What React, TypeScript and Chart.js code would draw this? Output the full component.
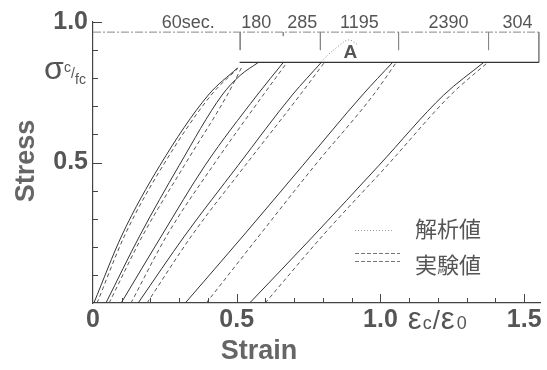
import React, { useEffect, useRef } from "react";
import { Chart, registerables } from "chart.js";
Chart.register(...registerables);

// ---- data (strain = εc/ε0, stress = σ/fc') ----
const curveStress = [0, 0.242, 0.49, 0.74, 0.856];
const g1Stress = [0, 0.242, 0.49, 0.74, 0.836];
const g2Stress = [0, 0.242, 0.49, 0.74, 0.81, 0.856];
const g2ExpStress = [0, 0.242, 0.49, 0.74, 0.836];

const analysisStrain1 = [0.003, 0.101, 0.233, 0.401, 0.502];
const experimentStrain1 = [0.014, 0.111, 0.244, 0.411, 0.505];
const analysisStrain2 = [0.045, 0.164, 0.3, 0.449, 0.512, 0.575];
const experimentStrain2 = [0.056, 0.174, 0.318, 0.467, 0.516];
const analysisStrain3 = [0.098, 0.24, 0.39, 0.571, 0.662];
const experimentStrain3 = [0.132, 0.258, 0.418, 0.592, 0.675];
const analysisStrain4 = [0.157, 0.321, 0.505, 0.693, 0.794];
const experimentStrain4 = [0.188, 0.345, 0.53, 0.72, 0.805];
const analysisStrain5 = [0.321, 0.525, 0.73, 0.937, 1.042];
const experimentStrain5 = [0.394, 0.58, 0.772, 0.975, 1.055];
const analysisStrain6 = [0.545, 0.77, 0.995, 1.22, 1.359];
const experimentStrain6 = [0.599, 0.801, 1.024, 1.244, 1.373];

const plateauStrain = [0.51, 1.551];
const plateauStress = 0.856;

const bracketStress = 0.964;
const bracketStrain = [0, 1.551];
const bracketTickStrain = [0.512, 0.662, 0.791, 1.063, 1.376, 1.551];
const bracketTickBottom = [0.9, 0.95, 0.9, 0.9, 0.9, 0.856];

const timeLabels = ["60sec.", "180", "285", "1195", "2390", "304"];
const timeLabelStrain = [0.331, 0.568, 0.728, 0.927, 1.237, 1.477];

const humpStrain = [0.791, 0.82, 0.855, 0.889, 0.923];
const humpStress = [0.856, 0.885, 0.915, 0.936, 0.918];

const xTickValues = [0, 0.5, 1.0, 1.5];
const xTickLabels = ["0", "0.5", "1.0", "1.5"];
const yTickValues = [0.5, 1.0];
const yTickLabels = ["0.5", "1.0"];
const xMinorTicks = [0.1, 0.2, 0.3, 0.4, 0.5, 0.6, 0.7, 0.8, 0.9, 1.0, 1.1, 1.2, 1.3, 1.4, 1.5];
const xMajorTicks = [0.5, 1.0, 1.5];
const yMinorTicks = [0.1, 0.2, 0.3, 0.4, 0.5, 0.6, 0.7, 0.8, 0.9, 1.0];
const yMajorTicks = [0.5, 1.0];

const legendLabels = ["解析値", "実験値"];

const pts = (xs: number[], ys: number[] | number) =>
  xs.map((x, i) => ({ x, y: Array.isArray(ys) ? ys[i] : ys }));

const TEXT = "#555";
const SANS = "'Liberation Sans', Arial, sans-serif";

const annotPlugin = {
  id: "annot",
  afterDraw(chart: any) {
    const { ctx, scales } = chart;
    const x = scales.x;
    const y = scales.y;
    ctx.save();
    // inward tick marks
    ctx.strokeStyle = "#444";
    ctx.lineWidth = 1;
    yMinorTicks.forEach((v) => {
      const py = Math.round(y.getPixelForValue(v)) + 0.5;
      const len = yMajorTicks.includes(v) ? 9 : 5;
      ctx.beginPath();
      ctx.moveTo(x.left, py);
      ctx.lineTo(x.left + len, py);
      ctx.stroke();
    });
    xMinorTicks.forEach((v) => {
      const px = Math.round(x.getPixelForValue(v)) + 0.5;
      const len = xMajorTicks.includes(v) ? 9 : 5;
      ctx.beginPath();
      ctx.moveTo(px, y.bottom);
      ctx.lineTo(px, y.bottom - len);
      ctx.stroke();
    });

    ctx.fillStyle = TEXT;
    // time labels above bracket
    ctx.font = `18px ${SANS}`;
    ctx.textAlign = "center";
    ctx.textBaseline = "alphabetic";
    const by = y.getPixelForValue(bracketStress) - 4;
    timeLabels.forEach((t, i) => {
      ctx.fillText(t, x.getPixelForValue(timeLabelStrain[i]), by);
    });
    // A
    ctx.font = `bold 19px ${SANS}`;
    ctx.textBaseline = "middle";
    ctx.fillText("A", x.getPixelForValue(0.895), y.getPixelForValue(0.89));

    // sigma label on y axis
    ctx.textAlign = "left";
    ctx.textBaseline = "alphabetic";
    const sy = y.getPixelForValue(0.83);
    ctx.font = `32px ${SANS}`;
    ctx.fillText("σ", 44, sy + 9);
    ctx.font = `14px ${SANS}`;
    ctx.fillText("c", 64, sy + 2);
    ctx.fillText("/", 71, sy + 8);
    ctx.fillText("fc", 75, sy + 14);

    // epsilon label on x axis
    const ex = x.getPixelForValue(1.21) - 33;
    const ey = y.bottom + 26;
    ctx.font = `31px ${SANS}`;
    ctx.fillText("ε", ex, ey);
    ctx.font = `18px ${SANS}`;
    ctx.fillText("c", ex + 15, ey);
    ctx.font = `26px ${SANS}`;
    ctx.fillText("/", ex + 25, ey);
    ctx.font = `31px ${SANS}`;
    ctx.fillText("ε", ex + 33, ey);
    ctx.font = `18px ${SANS}`;
    ctx.fillText("0", ex + 49, ey);

    // axis titles
    ctx.font = `bold 27px ${SANS}`;
    ctx.textAlign = "center";
    ctx.textBaseline = "middle";
    ctx.fillStyle = "#666";
    ctx.fillText("Strain", 259, 352);
    ctx.save();
    ctx.translate(27, 161);
    ctx.rotate(-Math.PI / 2);
    ctx.fillText("Stress", 0, 0);
    ctx.restore();

    // legend
    ctx.strokeStyle = "#999";
    ctx.lineWidth = 1;
    ctx.setLineDash([1, 2]);
    ctx.beginPath();
    ctx.moveTo(355, 230.5);
    ctx.lineTo(392, 230.5);
    ctx.stroke();
    ctx.setLineDash([4, 2]);
    ctx.strokeStyle = "#777";
    ctx.beginPath();
    ctx.moveTo(355, 253.5);
    ctx.lineTo(400, 253.5);
    ctx.moveTo(355, 261.5);
    ctx.lineTo(400, 261.5);
    ctx.stroke();
    ctx.setLineDash([]);
    ctx.fillStyle = TEXT;
    ctx.font = `22px 'Noto Sans CJK JP', sans-serif`;
    ctx.textAlign = "left";
    ctx.fillText(legendLabels[0], 415, 229);
    ctx.fillText(legendLabels[1], 415, 265);
    ctx.restore();
  },
};

export default function App() {
  const ref = useRef<HTMLCanvasElement | null>(null);
  useEffect(() => {
    if (!ref.current) return;
    const solid = (d: any[]) => ({
      data: d,
      borderColor: "#333",
      borderWidth: 1,
      showLine: true,
      pointRadius: 0,
      cubicInterpolationMode: "monotone" as const,
    });
    const dashed = (d: any[]) => ({
      data: d,
      borderColor: "#555",
      borderWidth: 1,
      borderDash: [4, 3],
      showLine: true,
      pointRadius: 0,
      cubicInterpolationMode: "monotone" as const,
    });
    const datasets: any[] = [
      solid(pts(analysisStrain1, g1Stress)),
      dashed(pts(experimentStrain1, g1Stress)),
      solid(pts(analysisStrain2, g2Stress)),
      dashed(pts(experimentStrain2, g2ExpStress)),
      solid(pts(analysisStrain3, curveStress)),
      dashed(pts(experimentStrain3, curveStress)),
      solid(pts(analysisStrain4, curveStress)),
      dashed(pts(experimentStrain4, curveStress)),
      solid(pts(analysisStrain5, curveStress)),
      dashed(pts(experimentStrain5, curveStress)),
      solid(pts(analysisStrain6, curveStress)),
      dashed(pts(experimentStrain6, curveStress)),
      {
        data: pts(plateauStrain, plateauStress),
        borderColor: "#333",
        borderWidth: 1.2,
        showLine: true,
        pointRadius: 0,
      },
      {
        data: pts(bracketStrain, bracketStress),
        borderColor: "#888",
        borderWidth: 1,
        borderDash: [8, 2, 2, 2],
        showLine: true,
        pointRadius: 0,
      },
      ...bracketTickStrain.map((s, i) => ({
        data: [
          { x: s, y: bracketStress },
          { x: s, y: bracketTickBottom[i] },
        ],
        borderColor: "#888",
        borderWidth: 1,
        showLine: true,
        pointRadius: 0,
      })),
      {
        data: pts(humpStrain, humpStress),
        borderColor: "#888",
        borderWidth: 1,
        borderDash: [1, 2],
        showLine: true,
        pointRadius: 0,
        tension: 0.4,
      },
    ];
    const chart = new Chart(ref.current, {
      type: "scatter",
      data: { datasets },
      options: {
        animation: false,
        responsive: true,
        maintainAspectRatio: false,
        layout: { padding: { left: 0, right: 7, top: 22, bottom: 0 } },
        plugins: { legend: { display: false }, tooltip: { enabled: false } },
        scales: {
          x: {
            type: "linear",
            min: 0,
            max: 1.555,
            grid: { display: false, drawTicks: false },
            border: { display: true, color: "#444", width: 1.2 },
            afterBuildTicks: (s: any) => {
              s.ticks = xTickValues.map((v) => ({ value: v }));
            },
            afterFit: (s: any) => {
              s.height = 67;
            },
            ticks: {
              autoSkip: false,
              maxRotation: 0,
              padding: 2,
              color: TEXT,
              font: { family: SANS, size: 25, weight: "bold" },
              callback: (_v: any, i: number) => xTickLabels[i],
            },
          },
          y: {
            type: "linear",
            min: 0,
            max: 1,
            grid: { display: false, drawTicks: false },
            border: { display: true, color: "#444", width: 1.2 },
            afterBuildTicks: (s: any) => {
              s.ticks = yTickValues.map((v) => ({ value: v }));
            },
            afterFit: (s: any) => {
              s.width = 93;
            },
            ticks: {
              autoSkip: false,
              padding: 5,
              color: TEXT,
              font: { family: SANS, size: 25, weight: "bold" },
              callback: (_v: any, i: number) => yTickLabels[i],
            },
          },
        },
      },
      plugins: [annotPlugin],
    });
    return () => chart.destroy();
  }, []);
  return (
    <div style={{ position: "fixed", left: 0, top: 0, width: 547, height: 370, background: "#fff" }}>
      <canvas ref={ref} />
    </div>
  );
}
